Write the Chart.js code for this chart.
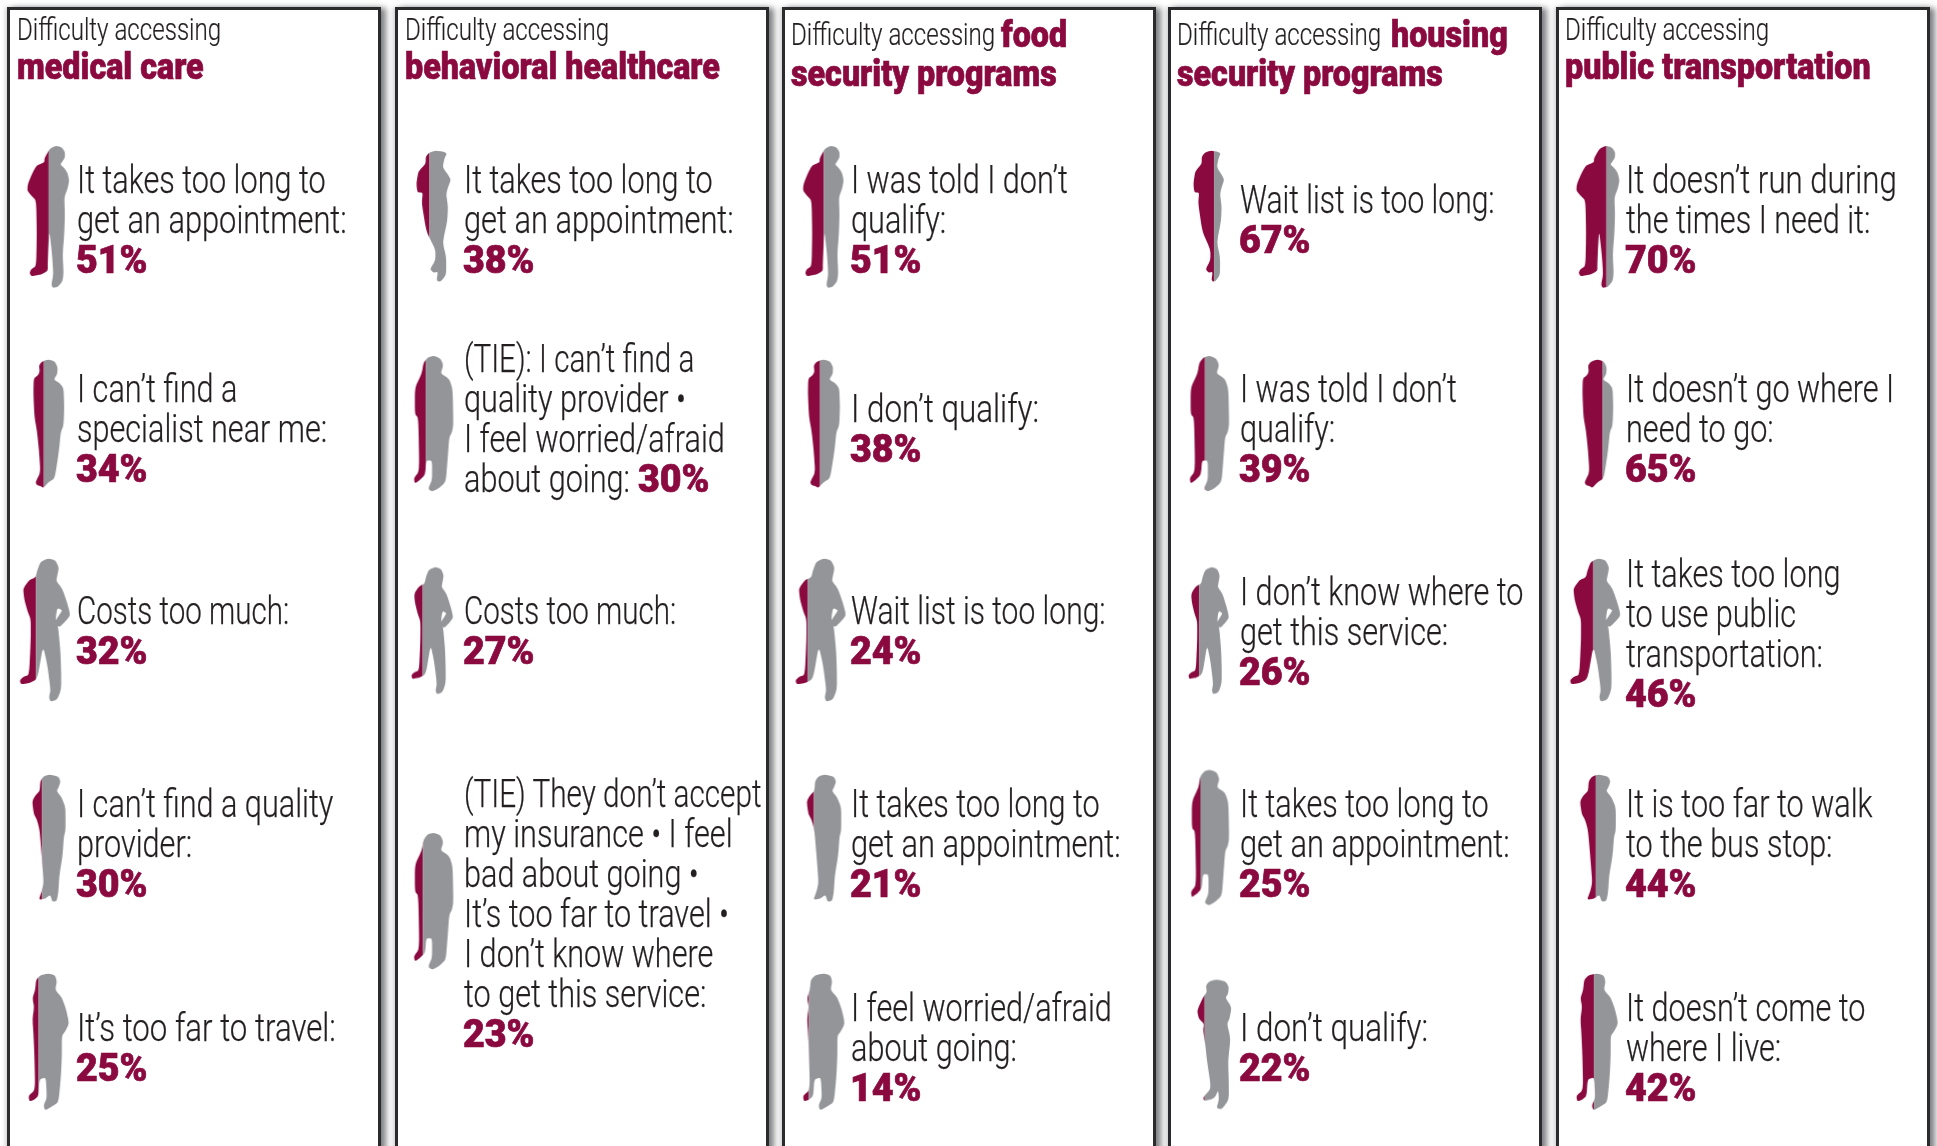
<!DOCTYPE html>
<html><head><meta charset="utf-8">
<style>
html,body{margin:0;padding:0;background:#fff;width:1937px;height:1146px;overflow:hidden}
#stage{position:relative;width:1937px;height:1146px;overflow:hidden}
.panel{position:absolute;top:7px;height:1200px;width:368px;border:3px solid #2b2b2d;background:#fff;box-shadow:5px 1px 6px rgba(60,62,66,.65),-2px 0 4px rgba(60,62,66,.2)}
canvas{position:absolute;left:0;top:0}
.t{position:absolute;white-space:pre;transform-origin:0 50%;z-index:3}
.body{font:300 39px/40px Roboto,sans-serif;color:#231f20;transform:scaleX(.785);-webkit-text-stroke:.25px #231f20}
.pct{font:900 38px/40px Roboto,sans-serif;color:#8a0a40;transform:scaleX(.99);-webkit-text-stroke:.7px #8a0a40}
.h1{font:300 31px/36px Roboto,sans-serif;color:#231f20;transform:scaleX(.778);-webkit-text-stroke:.2px #231f20}
.h2{font:900 37px/36px Roboto,sans-serif;color:#8a0a40;transform:scaleX(.872);-webkit-text-stroke:.7px #8a0a40}
</style></head><body><div id="stage"><canvas id="c" width="1937" height="1146"></canvas></div>
<script src="https://cdn.jsdelivr.net/npm/chart.js@4"></script>
<script>
// ---------- data ----------
const panelNames = ["medical care","behavioral healthcare","food security programs","housing security programs","public transportation"];
const rowNames = ["1st","2nd","3rd","4th","5th"];
const medicalLabels = ["It takes too long to\nget an appointment:","I can\u2019t find a\nspecialist near me:","Costs too much:","I can\u2019t find a quality\nprovider:","It\u2019s too far to travel:"];
const medicalValues = [51,34,32,30,25];
const behavioralLabels = ["It takes too long to\nget an appointment:","(TIE): I can\u2019t find a\nquality provider \u2022\nI feel worried/afraid\nabout going: ","Costs too much:","(TIE) They don\u2019t accept\nmy insurance \u2022 I feel\nbad about going \u2022\nIt\u2019s too far to travel \u2022\nI don\u2019t know where\nto get this service:"];
const behavioralValues = [38,30,27,23];
const foodLabels = ["I was told I don\u2019t\nqualify:","I don\u2019t qualify:","Wait list is too long:","It takes too long to\nget an appointment:","I feel worried/afraid\nabout going:"];
const foodValues = [51,38,24,21,14];
const housingLabels = ["Wait list is too long:","I was told I don\u2019t\nqualify:","I don\u2019t know where to\nget this service:","It takes too long to\nget an appointment:","I don\u2019t qualify:"];
const housingValues = [67,39,26,25,22];
const transitLabels = ["It doesn\u2019t run during\nthe times I need it:","It doesn\u2019t go where I\nneed to go:","It takes too long\nto use public\ntransportation:","It is too far to walk\nto the bus stop:","It doesn\u2019t come to\nwhere I live:"];
const transitValues = [70,65,46,44,42];
const allLabels = [medicalLabels,behavioralLabels,foodLabels,housingLabels,transitLabels];
const allValues = [medicalValues,behavioralValues,foodValues,housingValues,transitValues];

// ---------- layout and style (reference pixels) ----------
const MAROON="#8a0a40", GREY="#939598";
const panelLefts=[7,395,782,1168,1556];
const K=1.2353;
// per-line horizontal fit, where the substitute font runs wider or narrower than the original
const lineFit={"Costs too much:":.758,"(TIE) They don\u2019t accept":.762,"Wait list is too long:":.77,"It\u2019s too far to travel:":.80,"I don\u2019t qualify:":.805,"It doesn\u2019t run during":.80,"(TIE): I can\u2019t find a":.76,"get an appointment:":.79};
// figure outlines
const shapes={
 B:[[170,437],[187,441],[197,455],[197,472],[188,486],[183,493],[195,503],[205,518],[210,540],[205,565],[195,590],[197,640],[195,700],[190,760],[193,815],[190,840],[175,858],[160,860],[156,850],[162,820],[158,760],[150,690],[147,740],[145,790],[145,810],[125,820],[95,826],[90,815],[95,805],[110,795],[112,700],[110,600],[95,585],[83,570],[85,550],[100,515],[112,495],[135,487],[135,475],[143,460],[152,445]],
 C:[[145,1078],[162,1083],[171,1100],[170,1122],[160,1138],[178,1150],[188,1165],[190,1220],[188,1275],[180,1295],[175,1350],[165,1420],[160,1435],[145,1445],[130,1462],[125,1458],[112,1453],[108,1445],[122,1415],[118,1350],[112,1290],[105,1250],[102,1180],[103,1135],[115,1125],[120,1115],[118,1095],[128,1083]],
 H:[[148,142],[170,147],[180,165],[175,185],[172,197],[190,215],[205,250],[215,280],[200,295],[180,310],[168,295],[185,275],[190,268],[175,262],[170,290],[178,310],[185,370],[187,420],[187,460],[175,485],[155,490],[150,480],[155,462],[145,400],[132,355],[115,435],[90,445],[65,448],[62,438],[72,430],[90,425],[95,340],[95,290],[85,270],[75,240],[72,215],[90,195],[110,188],[115,170],[125,150]],
 D:[[150,665],[175,670],[182,682],[175,697],[170,705],[185,720],[197,745],[197,800],[192,815],[188,860],[178,910],[175,950],[170,970],[157,972],[150,955],[135,965],[115,967],[125,945],[130,925],[125,870],[118,800],[110,775],[100,760],[95,730],[105,715],[118,705],[120,680],[132,668]],
 E:[[145,1150],[165,1155],[170,1170],[165,1190],[185,1208],[197,1235],[207,1270],[195,1290],[185,1300],[185,1350],[182,1400],[175,1460],[155,1470],[135,1480],[130,1468],[140,1450],[137,1400],[118,1405],[115,1445],[100,1455],[88,1458],[85,1445],[105,1430],[103,1350],[100,1295],[97,1260],[102,1230],[97,1210],[105,1190],[108,1165],[120,1155]],
 F:[[135,423],[155,425],[167,430],[160,445],[155,470],[170,490],[178,505],[170,525],[165,545],[170,580],[168,620],[155,680],[165,720],[165,770],[150,790],[138,788],[142,762],[130,765],[120,755],[135,730],[135,700],[110,650],[97,570],[100,540],[85,540],[82,515],[88,480],[108,460],[108,440],[118,428]],
 G:[[130,995],[150,1003],[158,1022],[150,1045],[175,1060],[185,1090],[187,1190],[183,1210],[175,1225],[170,1290],[165,1350],[145,1368],[125,1378],[113,1370],[125,1345],[125,1290],[108,1290],[105,1330],[90,1345],[75,1355],[72,1340],[88,1320],[85,1170],[75,1160],[75,1085],[95,1045],[100,1015],[112,1000]],
 W:[[135,57],[160,62],[170,78],[168,100],[160,112],[178,140],[172,175],[165,190],[175,235],[168,300],[170,370],[170,420],[150,448],[135,445],[142,420],[140,390],[130,415],[100,423],[97,412],[120,385],[108,300],[103,250],[97,210],[100,190],[85,175],[80,150],[97,110],[108,95],[105,75],[115,62]],
};
// shape, left, right, top, bottom in overview units
const figureBoxes=[
 [["B",22,56,118,233],["C",27,52,291,395],["H",16,57,452,568],["D",26,53,627,730],["E",23,56,788,899]],
 [["F",337,365,122,228],["G",335,367,288,398],["H",333,367,459,562],["G",335,367,674,785]],
 [["B",650,683,118,233],["C",654,680,291,395],["H",644,685,452,568],["D",653,681,627,730],["E",650,684,788,899]],
 [["F",966,991,122,228],["G",963,995,288,398],["H",962,995,459,562],["G",964,995,623,733],["W",969,997,793,898]],
 [["B",1276,1311,118,233],["C",1281,1306,291,395],["H",1271,1312,452,568],["D",1279,1308,627,730],["E",1276,1310,788,899]],
];
const textLeft=[62,376,689,1004,1316];
const textFirstY=[[146,315,495,651,832],[146,291,495,643],[146,331,495,651,816],[162,315,479,651,832],[146,315,465,651,816]];
const titles=[
 {y:[24,54],parts:[["h1","Difficulty accessing",14,0],["h2","medical care",14,1]]},
 {y:[24,54],parts:[["h1","Difficulty accessing",328,0],["h2","behavioral healthcare",328,1]]},
 {y:[28,60],parts:[["h1","Difficulty accessing",640,0],["h2","food",810,0],["h2","security programs",640,1]]},
 {y:[28,60],parts:[["h1","Difficulty accessing",953,0],["h2","housing",1126,0],["h2","security programs",953,1]]},
 {y:[24,54],parts:[["h1","Difficulty accessing",1267,0],["h2","public transportation",1267,1]]},
];
const PLOT_TOP=113, ROW_H=206, CELL_W=1937/5;

const stage=document.getElementById('stage');
panelLefts.forEach(l=>{const d=document.createElement('div');d.className='panel';d.style.left=l+'px';stage.insertBefore(d,stage.firstChild);});
function addText(cls,str,left,cy,lh){const e=document.createElement('div');e.className='t '+cls;e.textContent=str;e.style.left=left+'px';e.style.top=(cy-lh/2)+'px';stage.appendChild(e);return e;}

// figure sprite: silhouette split at value% of its width
function sprite(p,r,v){
 const [sh,l,rt,t,b]=figureBoxes[p][r];
 const L=l*K,R=rt*K,T=t*K,B=b*K;
 const cx=(p+.5)*CELL_W, cy=PLOT_TOP+(r+.5)*ROW_H;
 const ax=Math.max(Math.abs(L-cx),Math.abs(R-cx))+3, ay=Math.max(Math.abs(T-cy),Math.abs(B-cy))+3;
 const c=document.createElement('canvas');c.width=Math.ceil(ax*2);c.height=Math.ceil(ay*2);
 const g=c.getContext('2d');
 const pts=shapes[sh];
 const xs=pts.map(q=>q[0]),ys=pts.map(q=>q[1]);
 const x0=Math.min(...xs),x1=Math.max(...xs),y0=Math.min(...ys),y1=Math.max(...ys);
 const ox=c.width/2-cx, oy=c.height/2-cy;
 const P=pts.map(q=>[ox+L+(q[0]-x0)/(x1-x0)*(R-L), oy+T+(q[1]-y0)/(y1-y0)*(B-T)]);
 const n=P.length, s=.3;
 const lerp=(a,b2,u)=>[a[0]+(b2[0]-a[0])*u,a[1]+(b2[1]-a[1])*u];
 g.beginPath();
 for(let i=0;i<n;i++){
  const a=P[i],pv=P[(i+n-1)%n],nx=P[(i+1)%n];
  const u=lerp(a,pv,s),w=lerp(a,nx,s);
  if(i===0)g.moveTo(u[0],u[1]);else g.lineTo(u[0],u[1]);
  g.quadraticCurveTo(a[0],a[1],w[0],w[1]);
 }
 g.closePath();g.clip();
 const sx=ox+L+(R-L)*v/100;
 g.fillStyle=MAROON;g.fillRect(0,0,sx,c.height);
 g.fillStyle=GREY;g.fillRect(sx,0,c.width-sx,c.height);
 return c;
}

const points=[],styles=[];
allValues.forEach((vals,p)=>vals.forEach((v,r)=>{points.push({x:panelNames[p],y:rowNames[r],v});styles.push(sprite(p,r,v));}));

new Chart(document.getElementById('c'),{
 type:'scatter',
 data:{datasets:[{data:points,pointStyle:styles,pointRadius:10,pointHoverRadius:10,clip:false}]},
 options:{responsive:false,animation:false,events:[],
  layout:{autoPadding:false,padding:{top:PLOT_TOP,bottom:1146-PLOT_TOP-5*ROW_H,left:0,right:0}},
  plugins:{legend:{display:false},tooltip:{enabled:false}},
  scales:{
   x:{type:'category',labels:panelNames,offset:true,display:false},
   y:{type:'category',labels:rowNames,offset:true,display:false}
  }}
});

// text
titles.forEach(t=>t.parts.forEach(([cls,s,x,li])=>addText(cls,s,x*K,t.y[li]*K,36)));
allLabels.forEach((labs,p)=>labs.forEach((lab,r)=>{
 const lines=lab.split("\n");
 const x=textLeft[p]*K; let cy=textFirstY[p][r]*K; const lh=32.3*K;
 const val=allValues[p][r]+"%";
 lines.forEach((ln,i)=>{
  const e=addText('body',ln,x,cy,40);
  if(lineFit[ln]) e.style.transform='scaleX('+lineFit[ln]+')';
  if(i===lines.length-1 && ln.endsWith(" ")){
    addText('pct',val,e.getBoundingClientRect().right,cy,40);
  }
  cy+=lh;
 });
 if(!lab.endsWith(" ")) addText('pct',val,x-1,cy,40);
}));
</script></body></html>
